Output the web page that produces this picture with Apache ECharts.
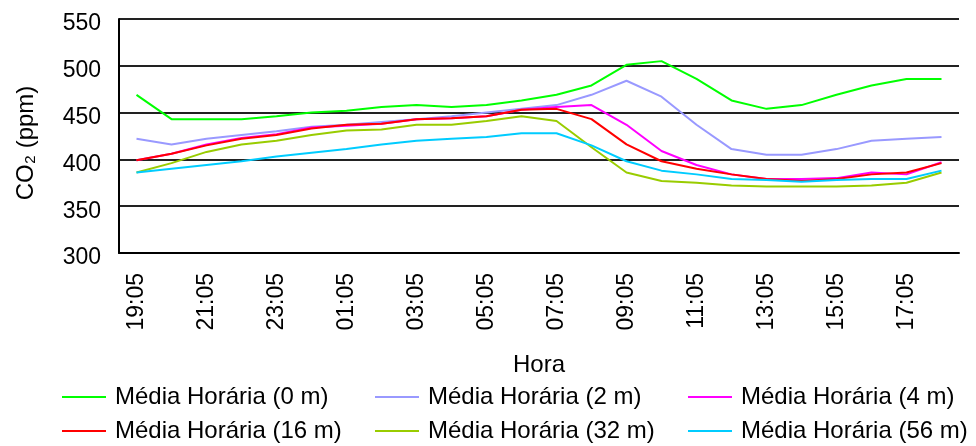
<!DOCTYPE html>
<html><head><meta charset="utf-8">
<script src="https://cdn.jsdelivr.net/npm/echarts@6/dist/echarts.min.js"></script>
<style>html,body{margin:0;padding:0;background:#fff}#c{width:976px;height:446px}</style>
</head><body><div id="c"></div>
<script>
const categories = ['19:05','20:05','21:05','22:05','23:05','00:05','01:05','02:05','03:05','04:05','05:05','06:05','07:05','08:05','09:05','10:05','11:05','12:05','13:05','14:05','15:05','16:05','17:05','18:05'];
const seriesNames = ['Média Horária (0 m)','Média Horária (2 m)','Média Horária (4 m)','Média Horária (16 m)','Média Horária (32 m)','Média Horária (56 m)'];
const m0  = [469,443,443,443,446,450,452,456,458,456,458,463,469,479,501,505,486,463,454,458,469,479,486,486];
const m2  = [422,416,422,426,430,435,437,440,443,446,450,454,458,469,484,467,437,411,405,405,411,420,422,424];
const m4  = [399,406,416,423,427,434,436,438,443,444,446,453,456,458,437,409,394,384,379,379,380,386,384,397];
const m16 = [399,406,415,422,426,433,437,438,443,444,446,453,454,443,416,398,390,384,379,377,379,384,386,396];
const m32 = [386,396,408,416,420,426,431,432,437,437,441,446,441,413,386,377,375,372,371,371,371,372,375,386];
const m56 = [386,390,394,398,403,407,411,416,420,422,424,428,428,415,398,388,384,379,378,376,378,379,379,388];
const yTicks = [300,350,400,450,500,550];
const colors = ['#00FF00','#9999FF','#FF00FF','#FF0000','#99CC00','#00CCFF'];
const values = [m0,m2,m4,m16,m32,m56];

const FONT = 'Liberation Sans, Arial, sans-serif';
const chart = echarts.init(document.getElementById('c'), null, {renderer:'canvas'});
function legendCol(left, names){
  return {
    orient:'vertical', left:left, top:385, itemWidth:44, itemHeight:2, itemGap:10,
    icon:'rect', padding:0, selectedMode:false,
    data:names,
    textStyle:{fontFamily:FONT, fontSize:24, color:'#000', lineHeight:24, padding:[0,0,0,4]}
  };
}
chart.setOption({
  animation:false,
  color:colors,
  grid:{left:119, right:17, top:19, bottom:193, containLabel:false},
  legend:[
    legendCol(62,[seriesNames[0],seriesNames[3]]),
    legendCol(375,[seriesNames[1],seriesNames[4]]),
    legendCol(688,[seriesNames[2],seriesNames[5]])
  ],
  xAxis:{
    type:'category', data:categories, boundaryGap:true,
    name:'Hora', nameLocation:'middle', nameGap:100,
    nameTextStyle:{fontFamily:FONT, fontSize:24, color:'#000'},
    axisLine:{show:true, lineStyle:{color:'#000', width:2}},
    axisTick:{show:false},
    axisLabel:{interval:1, rotate:90, margin:20, fontFamily:FONT, fontSize:23, color:'#000'},
    splitLine:{show:false}
  },
  yAxis:{
    type:'value', min:yTicks[0], max:yTicks[yTicks.length-1], interval:50,
    name:'CO\u2082 (ppm)', nameLocation:'middle', nameGap:81, nameRotate:90,
    nameTextStyle:{fontFamily:FONT, fontSize:24, color:'#000', padding:[0,14,0,0]},
    axisLine:{show:true, lineStyle:{color:'#000', width:2}},
    axisTick:{show:false},
    axisLabel:{margin:18, fontFamily:FONT, fontSize:23, color:'#000', verticalAlign:'top', lineHeight:10},
    splitLine:{show:true, lineStyle:{color:'#222', width:2}}
  },
  series: values.map((v,i)=>({
    name:seriesNames[i], type:'line', data:v, symbol:'none',
    lineStyle:{width:2, color:colors[i]}, itemStyle:{color:colors[i]}
  }))
});
</script></body></html>
